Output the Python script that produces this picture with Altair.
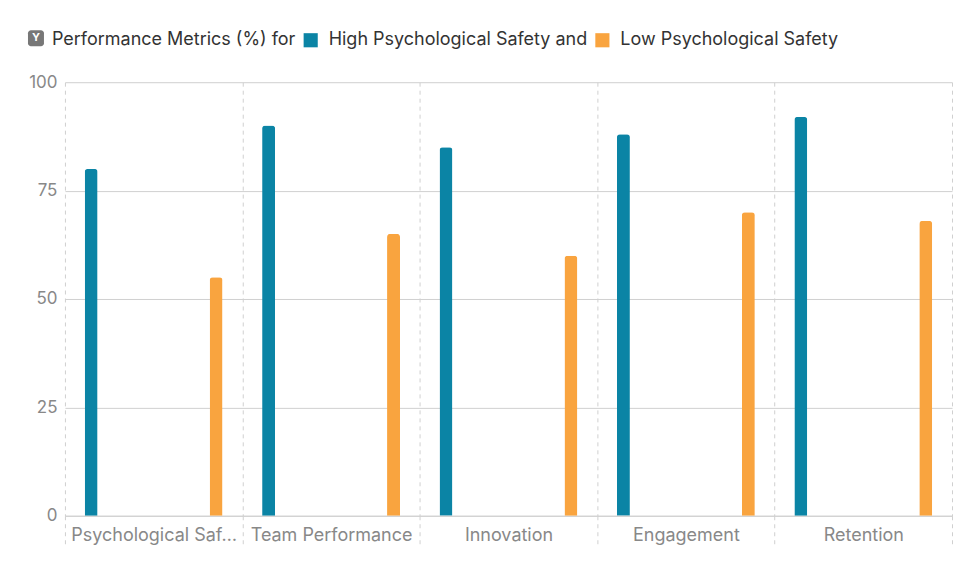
import altair as alt
import pandas as pd

categories = ["Psychological Safety", "Team Performance", "Innovation", "Engagement", "Retention"]
high = [80, 90, 85, 88, 92]
low = [55, 65, 60, 70, 68]
series = ["High Psychological Safety", "Low Psychological Safety"]
colors = ["#0b84a5", "#f9a43f"]
y_ticks = [0, 25, 50, 75, 100]

rows = []
for c, h, l in zip(categories, high, low):
    rows.append({"Metric": c, "Group": series[0], "Value": h})
    rows.append({"Metric": c, "Group": series[1], "Value": l})
df = pd.DataFrame(rows)

FONT = "Inter"
GRID = "#d0d0d0"

bars = alt.Chart(df).mark_bar(size=13, cornerRadiusTopLeft=3, cornerRadiusTopRight=3).encode(
    x=alt.X(
        "Metric:N",
        sort=categories,
        scale=alt.Scale(paddingInner=0, paddingOuter=0),
        axis=alt.Axis(
            title=None, labelAngle=0, labelFontSize=18, labelColor="#888888", labelFont=FONT,
            labelPadding=-19, labelLimit=172, tickBand="extent", ticks=True, tickDash=[4, 4],
            tickSize=30, tickColor=GRID, grid=True, gridDash=[4, 4], gridColor=GRID,
            domainColor=GRID,
        ),
    ),
    xOffset=alt.XOffset("Group:N", sort=series, scale=alt.Scale(paddingInner=0.58, paddingOuter=0)),
    y=alt.Y(
        "Value:Q",
        scale=alt.Scale(domain=[0, 100]),
        axis=alt.Axis(
            title=None, values=y_ticks, labelFontSize=17, labelColor="#888888", labelFont=FONT,
            labelPadding=8, ticks=False, domain=False, gridColor=GRID,
        ),
    ),
    color=alt.Color(
        "Group:N",
        sort=series,
        scale=alt.Scale(domain=series, range=colors),
        legend=alt.Legend(
            title="Performance Metrics (%) for", orient="none", legendX=-13, legendY=-51,
            direction="horizontal", titleOrient="left", titleFontSize=18, titleFontWeight="normal",
            titleColor="#333333", titleFont=FONT, labelFont=FONT, labelFontSize=18, labelColor="#333333",
            symbolType="square", symbolSize=200, symbolStrokeWidth=0, labelOffset=9,
            columnPadding=6, titlePadding=6, labelLimit=400, titleLimit=400,
            labelExpr="datum.label == 'High Psychological Safety' ? 'High Psychological Safety and' : datum.label",
        ),
    ),
)

icon_df = pd.DataFrame({"t": ["Y"]})
icon_box = alt.Chart(icon_df).mark_rect(color="#777777", cornerRadius=3).encode(
    x=alt.value(-37), x2=alt.value(-21), y=alt.value(-52), y2=alt.value(-36)
)
icon_text = alt.Chart(icon_df).mark_text(color="white", fontSize=11, fontWeight="bold", font=FONT).encode(
    x=alt.value(-29), y=alt.value(-44), text="t:N"
)

chart = alt.layer(bars, icon_box, icon_text).properties(
    width=888, height=434,
    autosize=alt.AutoSizeParams(type="none"),
    padding={"left": 57, "top": 74, "right": 20, "bottom": 40},
).configure_view(stroke=None)

chart.save("out.html", embed_options={"renderer": "svg", "actions": False})
